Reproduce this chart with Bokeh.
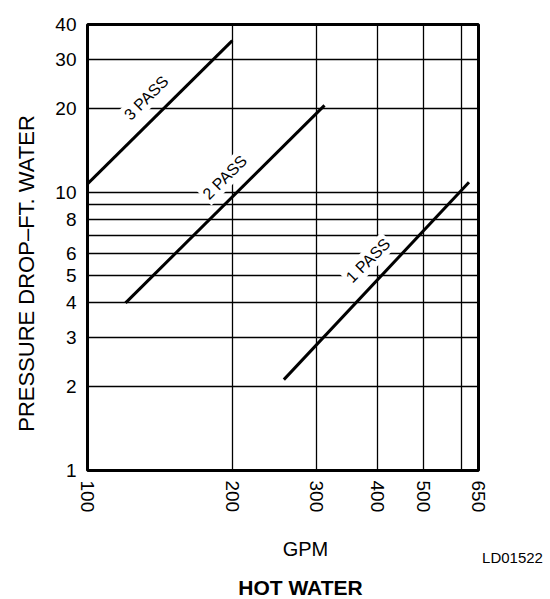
import math
from bokeh.plotting import figure
from bokeh.layouts import column, row
from bokeh.models import FixedTicker, Label, ColumnDataSource, Range1d
from bokeh.core.properties import value
from bokeh.embed import file_html
from bokeh.resources import INLINE

# ---- data ----
pass3_gpm = [100, 200]
pass3_dp = [10.7, 35.0]
pass2_gpm = [120, 311]
pass2_dp = [4.0, 20.5]
pass1_gpm = [256, 621]
pass1_dp = [2.12, 10.85]

label_text = ["3 PASS", "2 PASS", "1 PASS"]
label_gpm = [132.5, 193.0, 383.0]
label_dp = [21.8, 11.3, 5.68]

x_ticks = [100, 200, 300, 400, 500, 650]
x_tick_labels = ["100", "200", "300", "400", "500", "650"]
x_grid = [200, 300, 400, 500, 600]
y_ticks = [1, 2, 3, 4, 5, 6, 8, 10, 20, 30, 40]
y_tick_labels = ["1", "2", "3", "4", "5", "6", "8", "10", "20", "30", "40"]
y_grid = [2, 3, 4, 5, 6, 7, 8, 9, 10, 20, 30]

FONT = "Liberation Sans"

TOTAL_W, TOTAL_H = 550, 599
LEFT_W = 40
MAIN_W = TOTAL_W - LEFT_W
MAIN_H = 520
BOTTOM_H = TOTAL_H - MAIN_H

# frame in page pixels: left 87, right 478, top 24, bottom 470
p = figure(width=MAIN_W, height=MAIN_H, x_axis_type="log", y_axis_type="log",
           x_range=(100, 650), y_range=(1, 40),
           output_backend="svg", toolbar_location=None,
           min_border_left=87 - LEFT_W, min_border_right=TOTAL_W - 478,
           min_border_top=24, min_border_bottom=MAIN_H - 470)

p.background_fill_color = "white"
p.border_fill_color = "white"
p.outline_line_color = "black"
p.outline_line_width = 3
p.outline_line_alpha = 1.0

# grids
p.xgrid.ticker = FixedTicker(ticks=x_grid)
p.ygrid.ticker = FixedTicker(ticks=y_grid)
for g in (p.xgrid, p.ygrid):
    g.grid_line_color = "black"
    g.grid_line_width = 1.3
    g.grid_line_alpha = 1.0

# axes
p.xaxis.ticker = FixedTicker(ticks=x_ticks)
p.yaxis.ticker = FixedTicker(ticks=y_ticks)
p.xaxis.major_label_overrides = {t: s for t, s in zip(x_ticks, x_tick_labels)}
p.yaxis.major_label_overrides = {t: s for t, s in zip(y_ticks, y_tick_labels)}
p.xaxis.major_label_orientation = "vertical"
for ax in (p.xaxis, p.yaxis):
    ax.axis_line_color = None
    ax.major_tick_line_color = None
    ax.minor_tick_line_color = None
    ax.major_tick_in = 0
    ax.major_tick_out = 0
    ax.major_label_text_font = FONT
    ax.major_label_text_font_size = "19px"
    ax.major_label_text_color = "black"
p.xaxis.major_label_standoff = 10
p.yaxis.major_label_standoff = 11

# curves
for gx, gy in ((pass3_gpm, pass3_dp), (pass2_gpm, pass2_dp), (pass1_gpm, pass1_dp)):
    p.line(gx, gy, line_color="black", line_width=3)

# curve labels with white background
src = ColumnDataSource(dict(x=label_gpm, y=label_dp, t=label_text))
p.text(x="x", y="y", text="t", source=src, angle=math.pi / 4,
       text_align="center", text_baseline="middle",
       text_font=value(FONT), text_font_size="16px", text_color="black",
       background_fill_color="white", padding=2)


def text_panel(w, h):
    f = figure(width=w, height=h, x_range=Range1d(0, 1), y_range=Range1d(0, 1),
               output_backend="svg", toolbar_location=None,
               x_axis_location=None, y_axis_location=None,
               min_border=0, min_border_left=0, min_border_right=0,
               min_border_top=0, min_border_bottom=0)
    f.grid.visible = False
    f.outline_line_color = None
    f.background_fill_color = "white"
    f.border_fill_color = "white"
    return f


def add_label(fig, text, x, y, size, style="normal", angle=0.0):
    fig.add_layout(Label(x=x, y=y, x_units="screen", y_units="screen", text=text,
                         text_font=FONT, text_font_size=size, text_font_style=style,
                         text_align="center", text_baseline="middle",
                         text_color="black", angle=angle))


# left strip: y-axis title
left = text_panel(LEFT_W, MAIN_H)
add_label(left, "PRESSURE DROP\u2013FT. WATER", 26, MAIN_H - 323, "22px", angle=math.pi / 2)

# bottom strip (page y from MAIN_H to TOTAL_H)
bottom = text_panel(TOTAL_W, BOTTOM_H)
add_label(bottom, "GPM", 305, TOTAL_H - 548, "20px")
add_label(bottom, "LD01522", 512, TOTAL_H - 557, "15px")
add_label(bottom, "HOT WATER", 300, TOTAL_H - 587, "21px", style="bold")

layout = column(row(left, p, spacing=0), bottom, spacing=0)

open("out.html", "w").write(file_html(layout, INLINE))
